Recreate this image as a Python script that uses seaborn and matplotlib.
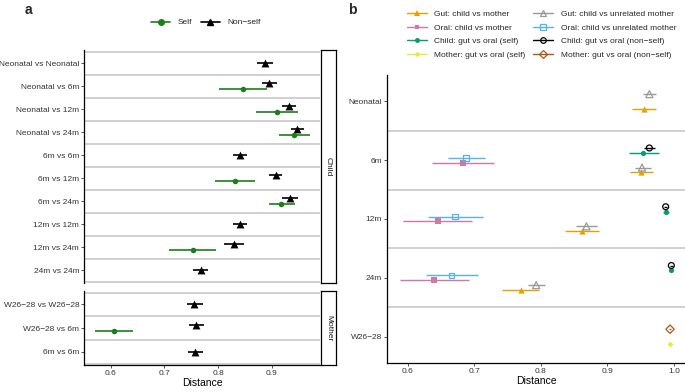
import matplotlib
matplotlib.use('Agg')
import matplotlib.pyplot as plt
from matplotlib.lines import Line2D
import seaborn as sns
import numpy as np
import pandas as pd

# ---- panel a data ----
child_rows = ['Neonatal vs Neonatal', 'Neonatal vs 6m', 'Neonatal vs 12m', 'Neonatal vs 24m', '6m vs 6m',
              '6m vs 12m', '6m vs 24m', '12m vs 12m', '12m vs 24m', '24m vs 24m']
child_ns = [0.887, 0.894, 0.933, 0.948, 0.841, 0.908, 0.934, 0.841, 0.830, 0.768]
child_ns_lo = [0.872, 0.881, 0.920, 0.936, 0.828, 0.895, 0.920, 0.828, 0.811, 0.754]
child_ns_hi = [0.902, 0.909, 0.946, 0.961, 0.853, 0.920, 0.949, 0.853, 0.849, 0.782]
child_self = [np.nan, 0.846, 0.910, 0.942, np.nan, 0.831, 0.918, np.nan, 0.753, np.nan]
child_self_lo = [np.nan, 0.802, 0.871, 0.914, np.nan, 0.794, 0.895, np.nan, 0.709, np.nan]
child_self_hi = [np.nan, 0.891, 0.949, 0.971, np.nan, 0.869, 0.943, np.nan, 0.797, np.nan]

mother_rows = ['W26\u221228 vs W26\u221228', 'W26\u221228 vs 6m', '6m vs 6m']
mother_ns = [0.756, 0.758, 0.757]
mother_ns_lo = [0.742, 0.745, 0.743]
mother_ns_hi = [0.771, 0.773, 0.771]
mother_self = [np.nan, 0.606, np.nan]
mother_self_lo = [np.nan, 0.571, np.nan]
mother_self_hi = [np.nan, 0.641, np.nan]

# ---- panel b data ----
stages = ['Neonatal', '6m', '12m', '24m', 'W26\u221228']
series = ['Gut: child vs mother', 'Gut: child vs unrelated mother', 'Oral: child vs mother',
          'Oral: child vs unrelated mother', 'Child: gut vs oral (self)', 'Child: gut vs oral (non\u2212self)',
          'Mother: gut vs oral (self)', 'Mother: gut vs oral (non\u2212self)']
b_series = ['Gut: child vs mother'] * 4 + ['Gut: child vs unrelated mother'] * 4 + \
           ['Oral: child vs mother'] * 3 + ['Oral: child vs unrelated mother'] * 3 + \
           ['Child: gut vs oral (self)'] * 3 + ['Child: gut vs oral (non\u2212self)'] * 3 + \
           ['Mother: gut vs oral (self)', 'Mother: gut vs oral (non\u2212self)']
b_stage = ['Neonatal', '6m', '12m', '24m'] * 2 + ['6m', '12m', '24m'] * 4 + ['W26\u221228'] * 2
b_mean = [0.955, 0.950, 0.862, 0.770, 0.963, 0.952, 0.8685, 0.793,
          0.683, 0.645, 0.640, 0.688, 0.671, 0.666,
          0.954, 0.9875, 0.996, 0.963, 0.9875, 0.996, 0.994, 0.994]
b_lo = [0.937, 0.934, 0.837, 0.742, 0.954, 0.941, 0.853, 0.780,
        0.637, 0.593, 0.588, 0.660, 0.630, 0.627,
        0.932, 0.983, 0.994, 0.955, 0.985, 0.994, 0.993, 0.992]
b_hi = [0.973, 0.969, 0.887, 0.798, 0.973, 0.965, 0.885, 0.807,
        0.730, 0.697, 0.692, 0.716, 0.713, 0.705,
        0.977, 0.992, 0.998, 0.971, 0.990, 0.998, 0.995, 0.996]

b_colors = ['#E69F00', '#999999', '#CC79A7', '#56B4E9', '#009E73', '#000000', '#F0E442', '#A8581C']
b_markers = ['^', '^', 's', 's', 'o', 'o', 'D', 'D']
b_filled = [True, False, True, False, True, False, True, False]
b_sizes = [20, 26, 14, 16, 14, 18, 9, 18]

green = '#1a7f1a'
tick_col = '#333333'
W, H = 685, 392

sns.set_theme(style='white')
plt.rcParams['font.family'] = ['Liberation Sans', 'DejaVu Sans']
plt.rcParams['axes.unicode_minus'] = True


def box(l, t, r, b):
    return [l / W, 1 - b / H, (r - l) / W, (b - t) / H]


def style_ax(ax, bottom):
    for s in ['top', 'right']:
        ax.spines[s].set_visible(False)
    ax.spines['left'].set_color('black')
    ax.spines['left'].set_linewidth(0.9)
    ax.spines['bottom'].set_visible(bottom)
    ax.spines['bottom'].set_color('black')
    ax.spines['bottom'].set_linewidth(0.9)
    ax.tick_params(axis='both', length=2, width=0.6, color=tick_col, labelsize=6, labelcolor=tick_col, pad=1.5,
                   left=True, bottom=bottom)
    ax.grid(False)


def facet(ax, rows, ns, ns_lo, ns_hi, sf, sf_lo, sf_hi, bottom):
    n = len(rows)
    d = pd.DataFrame({'row': rows, 'ns': ns, 'ns_lo': ns_lo, 'ns_hi': ns_hi,
                      'sf': sf, 'sf_lo': sf_lo, 'sf_hi': sf_hi})
    d['pos'] = np.arange(n)
    both = d['sf'].notna()
    d['y_ns'] = d['pos'] - np.where(both, 0.14, 0)
    d['y_sf'] = d['pos'] + 0.14
    for k in range(n + 1):
        ax.axhline(k - 0.5, color='#c4c4c4', lw=1.1, zorder=0)
    ax.hlines(d['y_ns'], d['ns_lo'], d['ns_hi'], color='black', lw=1.2, zorder=2)
    ds = d[both]
    ax.hlines(ds['y_sf'], ds['sf_lo'], ds['sf_hi'], color=green, lw=1.2, zorder=2)
    sns.scatterplot(data=d, x='ns', y='y_ns', marker='^', s=32, color='black', linewidth=0, ax=ax, zorder=3)
    sns.scatterplot(data=ds, x='sf', y='y_sf', marker='o', s=16, color=green, linewidth=0, ax=ax, zorder=3)
    ax.set_ylim(n - 0.5 + 0.06, -0.57)
    ax.set_xlim(0.550, 0.990)
    ax.set_yticks(range(n))
    ax.set_yticklabels(rows)
    ax.set_xticks([0.6, 0.7, 0.8, 0.9])
    ax.set_ylabel('')
    ax.set_xlabel('')
    style_ax(ax, bottom)
    if not bottom:
        ax.set_xticklabels([])


fig = plt.figure(figsize=(W / 100, H / 100), dpi=100)

ax_c = fig.add_axes(box(84, 50, 320, 283))
facet(ax_c, child_rows, child_ns, child_ns_lo, child_ns_hi, child_self, child_self_lo, child_self_hi, False)
ax_m = fig.add_axes(box(84, 291, 320, 365))
facet(ax_m, mother_rows, mother_ns, mother_ns_lo, mother_ns_hi, mother_self, mother_self_lo, mother_self_hi, True)
ax_m.set_xlabel('Distance', fontsize=7.5, color='black', labelpad=1)

for (t, b), lab in [((50, 283), 'Child'), ((291, 365), 'Mother')]:
    st = fig.add_axes(box(321, t, 336, b))
    st.set_xticks([])
    st.set_yticks([])
    for s in st.spines.values():
        s.set_color('black')
        s.set_linewidth(0.9)
    st.set_facecolor('white')
    st.text(0.5, 0.5, lab, rotation=-90, ha='center', va='center', fontsize=6, color='#1a1a1a',
            transform=st.transAxes)

# ---- panel b ----
db = pd.DataFrame({'series': b_series, 'stage': b_stage, 'mean': b_mean, 'lo': b_lo, 'hi': b_hi})
db['si'] = db['series'].map({s: i for i, s in enumerate(series)})
db['pos'] = db['stage'].map({s: i for i, s in enumerate(stages)})
dodge_w = 0.5
ys = []
for _, r in db.iterrows():
    grp = db[db['stage'] == r['stage']].sort_values('si')
    n = len(grp)
    rank = list(grp['si']).index(r['si'])
    # lowest series index at the bottom of each band
    ys.append(r['pos'] + ((n - 1) / 2 - rank) * dodge_w / n)
db['y'] = ys

ax_b = fig.add_axes(box(387, 75, 686, 363))
for k in range(len(stages) - 1):
    ax_b.axhline(k + 0.5, color='#c4c4c4', lw=1.1, zorder=0)
for i, s in enumerate(series):
    sub = db[db['series'] == s]
    ax_b.hlines(sub['y'], sub['lo'], sub['hi'], color=b_colors[i], lw=1.0, zorder=2)
    if b_filled[i]:
        sns.scatterplot(data=sub, x='mean', y='y', marker=b_markers[i], s=b_sizes[i], color=b_colors[i],
                        linewidth=0, ax=ax_b, zorder=3)
    else:
        sns.scatterplot(data=sub, x='mean', y='y', marker=b_markers[i], s=b_sizes[i], color=b_colors[i],
                        facecolor='none', edgecolor=b_colors[i], linewidth=0.9, ax=ax_b, zorder=3)
ax_b.set_ylim(4.45, -0.45)
ax_b.set_xlim(0.569, 1.018)
ax_b.set_yticks(range(len(stages)))
ax_b.set_yticklabels(stages)
ax_b.set_xticks([0.6, 0.7, 0.8, 0.9, 1.0])
ax_b.set_ylabel('')
style_ax(ax_b, True)
ax_b.set_xlabel('Distance', fontsize=7.5, color='black', labelpad=1)

# ---- legends ----
h_a = [Line2D([], [], color=green, marker='o', ms=4, lw=1.2),
       Line2D([], [], color='black', marker='^', ms=5, lw=1.2)]
fig.legend(h_a, ['Self', 'Non\u2212self'], loc='center', bbox_to_anchor=(206 / W, 1 - 22.5 / H), ncol=2,
           frameon=False, fontsize=6, handlelength=2.3, handletextpad=0.9, columnspacing=1.0,
           borderpad=0, borderaxespad=0)

order = [0, 2, 4, 6, 1, 3, 5, 7]
h_b = []
for i in order:
    h_b.append(Line2D([], [], color=b_colors[i], marker=b_markers[i], lw=1.0,
                      ms=np.sqrt(b_sizes[i]) * 0.95,
                      markerfacecolor=b_colors[i] if b_filled[i] else 'none',
                      markeredgecolor=b_colors[i], markeredgewidth=0 if b_filled[i] else 0.9))
fig.legend(h_b, [series[i] for i in order], loc='upper left', bbox_to_anchor=(407 / W, 1 - 10.5 / H), ncol=2,
           frameon=False, fontsize=6, handlelength=2.4, handletextpad=0.9, columnspacing=0.9,
           labelspacing=0.68, borderpad=0, borderaxespad=0)

fig.text(28 / W, 1 - 10 / H, 'a', fontsize=10, fontweight='bold', ha='center', va='center')
fig.text(352 / W, 1 - 10 / H, 'b', fontsize=10, fontweight='bold', ha='center', va='center')

fig.savefig('out.png', dpi=100)
